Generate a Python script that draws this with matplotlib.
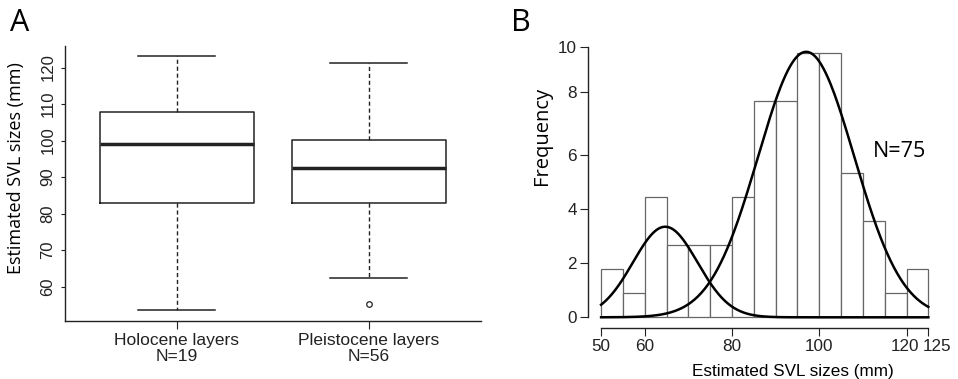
import numpy as np
import matplotlib
matplotlib.use("Agg")
import matplotlib.pyplot as plt
from matplotlib.transforms import ScaledTranslation

# ---- panel A: box plot summaries
groups = ["Holocene layers\nN=19", "Pleistocene layers\nN=56"]
q1 = [83.0, 82.8]
med = [99.0, 92.4]
q3 = [107.8, 100.2]
whis_lo = [53.6, 62.5]
whis_hi = [123.2, 121.3]
outliers = [[], [55.2]]
a_yticks = [60, 70, 80, 90, 100, 110, 120]

# ---- panel B: histogram counts, bins of 5 mm from 50 to 125
bin_edges = [50, 55, 60, 65, 70, 75, 80, 85, 90, 95, 100, 105, 110, 115, 120, 125]
counts = [2, 1, 5, 3, 3, 3, 5, 9, 9, 11, 11, 6, 4, 1, 2]
# two fitted normal components (mean, sd, n)
comp_mean = [64.7, 97.0]
comp_sd = [7.4, 11.0]
comp_n = [14, 61]
b_xticks = [50, 60, 80, 100, 120, 125]
# the y axis labels in the original sit at uneven positions
b_ytick_pos = [0, 2.25, 4.5, 6.76, 9.39, 11.28]
b_ytick_lab = ["0", "2", "4", "6", "8", "10"]

W, H = 958, 379
fig = plt.figure(figsize=(W / 100, H / 100), dpi=100)
tickfont = "Liberation Sans"
labfont = "Open Sans"
dark = "#222222"

# ---------------- A
axA = fig.add_axes([65 / W, 1 - 320.7 / H, 415.5 / W, 274.7 / H])
stats = []
for i in range(len(groups)):
    stats.append(dict(med=med[i], q1=q1[i], q3=q3[i], whislo=whis_lo[i],
                      whishi=whis_hi[i], fliers=outliers[i]))
axA.bxp(stats, positions=[1, 2], widths=0.8, showfliers=True,
        boxprops=dict(color=dark, linewidth=1.1),
        medianprops=dict(color=dark, linewidth=2.5),
        whiskerprops=dict(color=dark, linewidth=1.0, linestyle=(0, (3, 2))),
        capprops=dict(color=dark, linewidth=1.1),
        capwidths=0.4,
        flierprops=dict(marker="o", markersize=4, markerfacecolor="none",
                        markeredgecolor=dark, markeredgewidth=0.9))
axA.set_xlim(0.42, 2.58)
axA.set_ylim(50.7, 125.9)
axA.set_xticks([1, 2])
axA.set_xticklabels(groups, fontfamily=tickfont, fontsize=12.5, linespacing=1.1)
axA.set_yticks(a_yticks)
axA.set_yticklabels([str(v) for v in a_yticks], fontfamily=tickfont, fontsize=12,
                    rotation=90, va="center")
axA.tick_params(axis="y", length=3, width=0.8, pad=4, colors=dark)
axA.tick_params(axis="x", length=6, width=0.8, pad=3, colors=dark)
for s in ["top", "right"]:
    axA.spines[s].set_visible(False)
for s in ["left", "bottom"]:
    axA.spines[s].set_linewidth(1.0)
    axA.spines[s].set_color(dark)
axA.set_ylabel("Estimated SVL sizes (mm)", fontfamily=labfont, fontsize=13)
axA.yaxis.set_label_coords(-0.0963, 0.556)
fig.text(10 / W, 1 - 23 / H, "A", fontfamily=labfont, fontsize=22, va="center", ha="left")

# ---------------- B
axB = fig.add_axes([588 / W, 1 - 328 / H, 344.7 / W, 289.1 / H])
lefts = bin_edges[:-1]
axB.bar(lefts, counts, width=5, align="edge", color="white",
        edgecolor="#666666", linewidth=0.9)
xs = np.linspace(bin_edges[0], bin_edges[-1], 400)
bw = bin_edges[1] - bin_edges[0]
for m, sd, n in zip(comp_mean, comp_sd, comp_n):
    ys = n * bw / (sd * np.sqrt(2 * np.pi)) * np.exp(-0.5 * ((xs - m) / sd) ** 2)
    axB.plot(xs, ys, color="black", linewidth=1.8)
axB.set_xlim(47.0, 126)
axB.set_ylim(-0.446, 11.6)
axB.set_xticks(b_xticks)
axB.set_xticklabels([str(v) for v in b_xticks], fontfamily=tickfont, fontsize=12.3)
axB.set_yticks(b_ytick_pos)
axB.set_yticklabels(b_ytick_lab, fontfamily=tickfont, fontsize=12.3)
axB.tick_params(axis="both", length=6, width=0.8, pad=2, colors=dark)
# nudge the crowded end labels apart, as in the original
xl = axB.get_xticklabels()
xl[-1].set_transform(xl[-1].get_transform() + ScaledTranslation(0.09, 0, fig.dpi_scale_trans))
xl[-2].set_transform(xl[-2].get_transform() + ScaledTranslation(-0.02, 0, fig.dpi_scale_trans))
for s in ["top", "right"]:
    axB.spines[s].set_visible(False)
axB.spines["left"].set_bounds(0, 11.28)
axB.spines["bottom"].set_bounds(50, 125)
for s in ["left", "bottom"]:
    axB.spines[s].set_linewidth(1.0)
    axB.spines[s].set_color(dark)
axB.set_ylabel("Frequency", fontfamily=labfont, fontsize=14.5)
axB.yaxis.set_label_coords(-0.1044, 0.664)
axB.text(0.594, -0.151, "Estimated SVL sizes (mm)", transform=axB.transAxes,
         ha="center", va="center", fontfamily=tickfont, fontsize=12.3)
axB.text(118.3, 6.9, "N=75", ha="center", va="center", fontfamily=labfont, fontsize=15.5)
fig.text(511 / W, 1 - 23 / H, "B", fontfamily=labfont, fontsize=22, va="center", ha="left")

fig.savefig("out.png", dpi=100)
